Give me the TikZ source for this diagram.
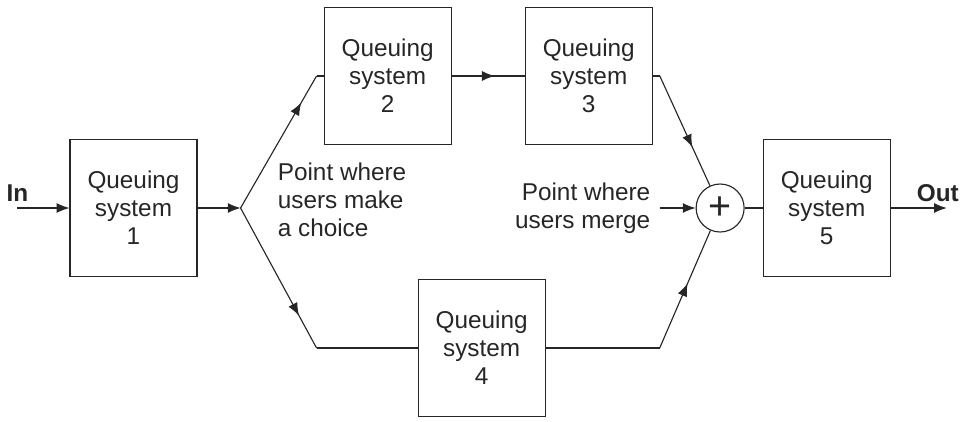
\documentclass[tikz,border=0pt]{standalone}
\usepackage{fontspec}
\setmainfont{Liberation Sans}
\usetikzlibrary{
    arrows.meta,
    positioning,
    calc,
    decorations.markings
}

\begin{document}
\begin{tikzpicture}[
        node distance=10mm and 10mm,
        every node/.style={font=\fontsize{17.3}{19.8}\selectfont,text=black!85},
        block/.style={
            rectangle,
            draw=black!85,
            line width=0.8pt,
            minimum width=31.75mm,
            minimum height=34.25mm,
            align=center,
            inner sep=2pt
        },
        merge/.style={
            circle,
            draw=black!85,
            line width=0.8pt,
            minimum size=12mm,
            inner sep=0pt,
            font=\fontsize{28}{28}\selectfont
        },
        line/.style={line width=0.8pt,draw=black!85},
        arrow/.style={
            line,
            -{Latex[length=3.2mm,width=2.5mm]}
        },
        midarrow/.style={
            line,
            postaction={decorate},
            decoration={markings,
                mark=at position #1 with {\arrow{Latex[length=3.2mm,width=2.5mm]}}}
        },
        annotation/.style={align=left,inner sep=0pt},
        io/.style={font=\fontsize{17.3}{19.8}\selectfont\bfseries,inner sep=0pt}
    ]
        % Queuing systems and bends
        \node[block] (qs1) {Queuing\\system\\1};
        \coordinate[right=10.75mm of qs1] (split);
        \coordinate[above right=33mm and 19mm of split] (upbend);
        \coordinate[below right=35mm and 19mm of split] (lowbend);
        \node[block, right=1.75mm of upbend] (qs2) {Queuing\\system\\2};
        \node[block, right=18.25mm of qs2] (qs3) {Queuing\\system\\3};
        \node[block, right=25.25mm of lowbend] (qs4) {Queuing\\system\\4};
        \coordinate[right=1.75mm of qs3] (upjoin);
        \coordinate[right=28.5mm of qs4] (lowjoin);
        \node[merge, right=113.75mm of split] (merge) {+};
        \node[block, right=4.5mm of merge] (qs5) {Queuing\\system\\5};

        % In and out
        \coordinate[left=13mm of qs1] (in);
        \coordinate[right=14mm of qs5] (out);
        \node[io, above=1.5mm of in] (inlabel) {In};
        \node[io, above=1.5mm of out, xshift=-2.25mm] (outlabel) {Out};

        % Labels
        \node[annotation, right=9.25mm of split, yshift=2mm] (choice)
            {Point where\\users make\\a choice};
        \coordinate[left=9mm of merge] (mergein);
        \node[annotation, align=right, left=2.25mm of mergein] (mergelabel)
            {Point where\\users merge};

        \draw[arrow] (in) -- (qs1);
        \draw[arrow] (qs1) -- (split);
        \draw[midarrow=0.8] (split) -- (upbend);
        \draw[line] (upbend) -- (qs2);
        \draw[midarrow=0.59] (qs2) -- (qs3);
        \draw[line] (qs3) -- (upjoin);
        \draw[midarrow=0.65] (upjoin) -- (merge);
        \draw[midarrow=0.77] (split) -- (lowbend);
        \draw[line] (lowbend) -- (qs4);
        \draw[line] (qs4) -- (lowjoin);
        \draw[midarrow=0.55] (lowjoin) -- (merge);
        \draw[arrow] (mergein) -- (merge);
        \draw[line] (merge) -- (qs5);
        \draw[arrow] (qs5) -- (out);

        \useasboundingbox (-3.3375,-5.325) rectangle (20.6875,5.2);
    \end{tikzpicture}
\end{document}
